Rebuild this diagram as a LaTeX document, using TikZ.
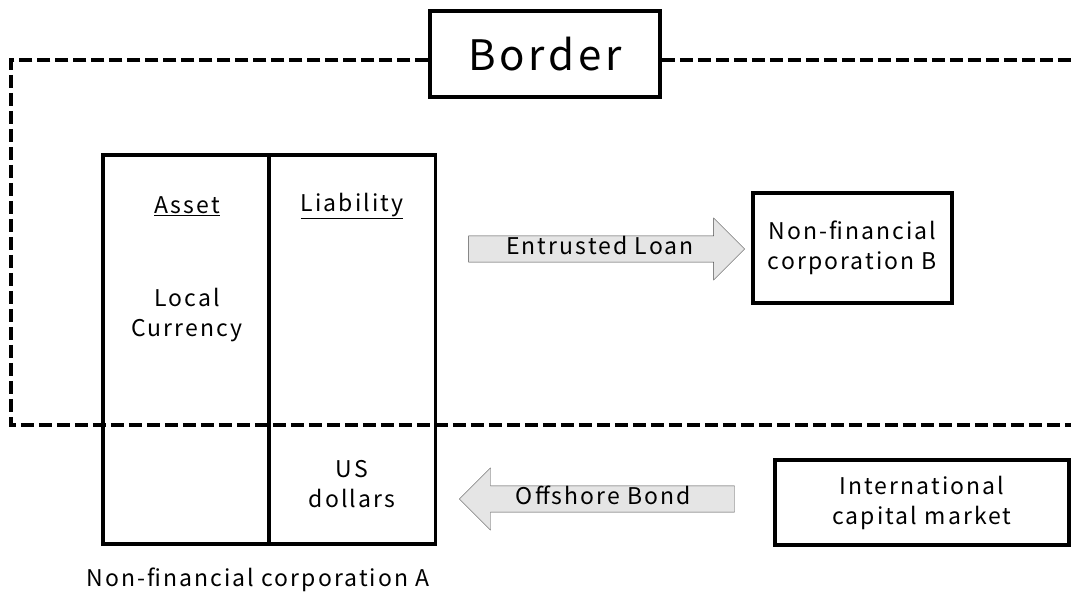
\documentclass[tikz,border=0pt]{standalone}
\usepackage{fontspec}
\setmainfont{Noto Sans CJK JP}[LetterSpace=9]
\usetikzlibrary{shapes.arrows}
\tikzset{
  frame/.style={draw, line width=3.5pt, inner sep=0pt},
  flowarrow/.style={single arrow, draw=black!70, fill=black!10, thin,
    single arrow head extend=16pt, inner xsep=4pt, inner ysep=0pt,
    minimum width=62pt, text height=17pt, text depth=6pt,
    font=\fontsize{23}{28}\selectfont},
  label/.style={align=center, font=\fontsize{23}{30}\selectfont}
}
\begin{document}
\begin{tikzpicture}[x=1pt,y=-1pt]
\useasboundingbox (0,0) rectangle (1071,605);
%%% Border box and the dashed border line
\node[frame, minimum width=230pt, minimum height=86pt,
  font=\fontsize{42}{46}\selectfont] (border) at (545, 54) {Border};
\coordinate (tl) at (11, 60);
\coordinate (bl) at (11, 425);
\coordinate (tr) at (1071, 60);
\coordinate (br) at (1071, 425);
%
%%% Balance sheet of corporation A
\node[frame, minimum width=166pt, minimum height=389pt] (asset) at (186, 349.5) {};
\node[frame, minimum width=167pt, minimum height=389pt] (liab) at (352, 349.5) {};
\node[label] (assethd) at (187, 206) {\underline{Asset}};
\node[label] (liabhd) at (352, 206) {\underline{Liability}};
\node[label] (local) at (187, 315) {Local\\Currency};
\node[label] (usd) at (352, 484) {US\\dollars};
\node[label] (corpA) at (258, 580) {Non-financial corporation A};
%
%%% The other parties
\node[frame, minimum width=199pt, minimum height=110pt, label] (corpB)
  at (852.5, 248) {Non-financial\\corporation B};
\node[frame, minimum width=294pt, minimum height=85pt, label] (market)
  at (922, 502.5) {International\\capital market};
%
%%% Dashed border
\draw[line width=3.5pt, dash pattern=on 13pt off 5pt] (border.west |- tl) -- (tl) -- (bl) -- (br);
\draw[line width=3.5pt, dash pattern=on 13pt off 5pt] (border.east |- tr) -- (tr);
%
%%% Flows between A and the other parties
\node[flowarrow, minimum height=276pt] (loan) at (600, 249) {Entrusted Loan};
\node[flowarrow, minimum height=275pt, shape border rotate=180] (bond) at (603.5, 499) {Offshore Bond};
\end{tikzpicture}
\end{document}
